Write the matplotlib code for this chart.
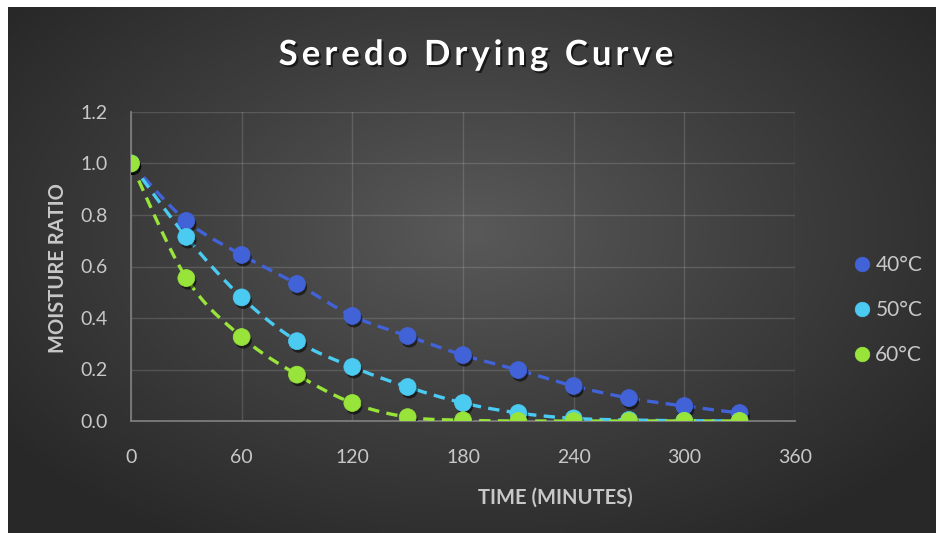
import numpy as np
import matplotlib
matplotlib.use("Agg")
import matplotlib.pyplot as plt
import matplotlib.patheffects as pe
from matplotlib.colors import LinearSegmentedColormap

# Drying data: moisture ratio sampled every 30 minutes
time_min = [0, 30, 60, 90, 120, 150, 180, 210, 240, 270, 300, 330]
mr_40 = [1.0, 0.777, 0.645, 0.532, 0.408, 0.330, 0.256, 0.198, 0.136, 0.089, 0.058, 0.031]
mr_50 = [1.0, 0.715, 0.480, 0.310, 0.210, 0.132, 0.070, 0.031, 0.010, 0.004, 0.001, 0.0]
mr_60 = [1.0, 0.555, 0.326, 0.180, 0.070, 0.015, 0.003, 0.0, 0.0, 0.0, 0.0, 0.0]

series_labels = ["40°C", "50°C", "60°C"]
series_colors = ["#4263d8", "#4ccbf2", "#98e43a"]
x_ticks = [0, 60, 120, 180, 240, 300, 360]
y_ticks = [0.0, 0.2, 0.4, 0.6, 0.8, 1.0, 1.2]
title = "Seredo Drying Curve"

FONT = ["Lato", "DejaVu Sans"]
TXT = "#c8c8c8"
W, H = 936, 533


def smooth_xy(x, y, steps=30):
    """Bezier smoothing through every point (same scheme as spreadsheet 'smoothed line')."""
    p = np.column_stack([x, y]).astype(float)
    p = np.vstack([p[0], p, p[-1]])
    out = []
    t = np.linspace(0, 1, steps)[:, None]
    for i in range(1, len(p) - 2):
        p0, p1, p2, p3 = p[i - 1], p[i], p[i + 1], p[i + 2]
        c1 = p1 + (p2 - p0) / 6.0
        c2 = p2 - (p3 - p1) / 6.0
        seg = ((1 - t) ** 3) * p1 + 3 * ((1 - t) ** 2) * t * c1 + 3 * (1 - t) * t ** 2 * c2 + t ** 3 * p2
        out.append(seg if i == 1 else seg[1:])
    out = np.vstack(out)
    return out[:, 0], out[:, 1]


def spaced_text(fig, cx, cy, s, spacing, **kw):
    """Draw a string centred at (cx, cy) pixels with extra letter spacing."""
    r = fig.canvas.get_renderer()

    def width(txt):
        t = fig.text(0, 0, txt, **kw)
        w = t.get_window_extent(r).width
        t.remove()
        return w

    space_w = width("a a") - width("aa")
    widths = [space_w if ch == " " else width(ch) for ch in s]
    total = sum(widths) + spacing * (len(s) - 1)
    x = cx - total / 2
    for ch, w in zip(s, widths):
        if ch != " ":
            fig.text(x / W, 1 - cy / H, ch, ha="left", va="center", **kw)
        x += w + spacing


fig = plt.figure(figsize=(W / 100, H / 100), dpi=100, facecolor="white")

# dark panel with a soft radial glow
bg = fig.add_axes([8 / W, 0, 1 - 8 / W, 526 / H])
bg.set_axis_off()
gx, gy = np.meshgrid(np.linspace(-1, 1, 400), np.linspace(-1, 1, 240))
r = np.sqrt((gx / 1.05) ** 2 + ((gy + 0.15) / 1.15) ** 2)
cmap = LinearSegmentedColormap.from_list("glow", ["#595959", "#3f3f3f", "#282828"])
bg.imshow(np.clip(r, 0, 1.2), cmap=cmap, aspect="auto", extent=[0, 1, 0, 1], origin="upper")
bg.set_xlim(0, 1)
bg.set_ylim(0, 1)

ax = fig.add_axes([131 / W, 112 / H, 664 / W, 309 / H])
ax.patch.set_alpha(0)

for vals, lab, col in zip([mr_40, mr_50, mr_60], series_labels, series_colors):
    sx, sy = smooth_xy(time_min, vals)
    ax.plot(sx, sy, color=col, lw=2.4, dashes=(3.4, 2.2), zorder=3)
    ax.plot(time_min, vals, ls="none", marker="o", ms=12.2, mfc=col, mec=col, mew=0.5,
            label=lab, zorder=4,
            path_effects=[pe.SimplePatchShadow(offset=(1.2, -2.2), shadow_rgbFace="black", alpha=0.55),
                          pe.Normal()])

ax.set_xlim(0, 360)
ax.set_ylim(0, 1.2)
ax.set_xticks(x_ticks)
ax.set_yticks(y_ticks)
ax.set_yticklabels([f"{v:.1f}" for v in y_ticks])
ax.grid(True, color="#ffffff", alpha=0.14, lw=1)
ax.set_axisbelow(True)
for s in ["top", "right"]:
    ax.spines[s].set_visible(False)
for s in ["left", "bottom"]:
    ax.spines[s].set_color("#7c7c7c")
    ax.spines[s].set_linewidth(1.3)
ax.tick_params(length=0, labelsize=14, labelcolor=TXT)
ax.tick_params(axis="y", pad=17)
ax.tick_params(axis="x", pad=20)
for lbl in ax.get_xticklabels() + ax.get_yticklabels():
    lbl.set_family(FONT)

spaced_text(fig, 476, 55, title, 4.0, color="white", fontsize=25, fontweight="bold", family=FONT,
            path_effects=[pe.withSimplePatchShadow(offset=(1.5, -1.5), shadow_rgbFace="black", alpha=0.6)])
fig.text(555 / W, 1 - 498 / H, "TIME (MINUTES)", ha="center", va="center",
         color=TXT, fontsize=14.5, fontweight="bold", family=FONT)
fig.text(58 / W, 1 - 268 / H, "MOISTURE RATIO", ha="center", va="center", rotation=90,
         color=TXT, fontsize=14.5, fontweight="bold", family=FONT)

leg = fig.legend(loc="center left", bbox_to_anchor=(841 / W, 1 - 310 / H), frameon=False,
                 labelspacing=1.2, handletextpad=0.05, handlelength=1.2, borderaxespad=0,
                 prop={"family": FONT, "size": 15})
for t in leg.get_texts():
    t.set_color(TXT)
for h in leg.legend_handles:
    h.set_markersize(10.5)
    h.set_path_effects([])

fig.savefig("out.png", dpi=100, facecolor=fig.get_facecolor())
